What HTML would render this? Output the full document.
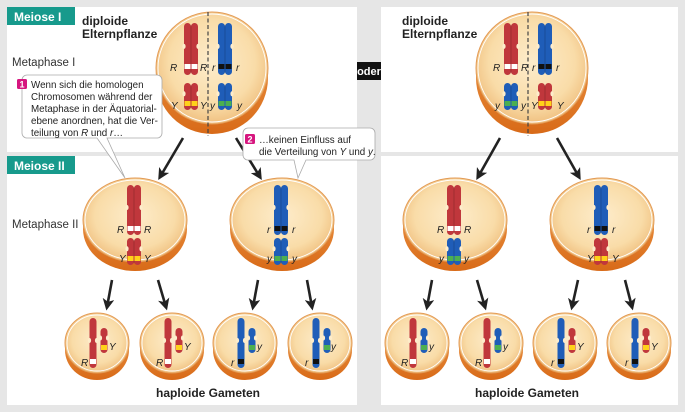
<!DOCTYPE html>
<html><head><meta charset="utf-8"><style>
html,body{margin:0;padding:0;background:#e6e6e6;}
svg{display:block;font-family:"Liberation Sans",sans-serif;}
.b{font-weight:bold;font-size:12px;fill:#222}
.t{font-size:9.8px;fill:#222}
.l{font-size:10px;font-style:italic;fill:#222}
</style></head><body>
<svg id="s" width="685" height="412" viewBox="0 0 685 412" xmlns="http://www.w3.org/2000/svg">
<defs>
<radialGradient id="cg" cx="50%" cy="45%" r="55%"><stop offset="0" stop-color="#fdeccb"/><stop offset="0.7" stop-color="#f9dca8"/><stop offset="1" stop-color="#f0c080"/></radialGradient>
<linearGradient id="rg" x1="0" y1="0" x2="0" y2="1"><stop offset="0" stop-color="#f0a050"/><stop offset="1" stop-color="#d86a18"/></linearGradient>
<marker id="ah" viewBox="0 0 10 10" refX="7" refY="5" markerWidth="4.5" markerHeight="4.5" orient="auto"><path d="M0,0 L10,5 L0,10 L2.5,5 z" fill="#222"/></marker>
</defs>
<rect x="0" y="0" width="685" height="412" fill="#e6e6e6"/>
<rect x="7" y="7" width="350" height="145" fill="#fff"/>
<rect x="7" y="156" width="350" height="249" fill="#fff"/>
<rect x="381" y="7" width="297" height="145" fill="#fff"/>
<rect x="381" y="156" width="297" height="249" fill="#fff"/>
<g id="cells"></g>
<g id="arrows"></g>
<path d="M27,75 h130 a5,5 0 0 1 5,5 v53 a5,5 0 0 1 -5,5 h-50 l18,40 l-28,-40 h-70 a5,5 0 0 1 -5,-5 v-53 a5,5 0 0 1 5,-5 z" fill="#fff" stroke="#aaa" stroke-width="0.8"/>
<path d="M248,128 h122 a5,5 0 0 1 5,5 v22 a5,5 0 0 1 -5,5 h-64 l-8,18 l-4,-18 h-46 a5,5 0 0 1 -5,-5 v-22 a5,5 0 0 1 5,-5 z" fill="#fff" stroke="#aaa" stroke-width="0.8"/>
<rect x="17" y="79" width="10" height="10" rx="1.5" fill="#d6167f"/>
<text x="22" y="87.5" font-size="9" fill="#fff" text-anchor="middle" font-weight="bold">1</text>
<text class="t" x="31" y="88">Wenn sich die homologen</text>
<text class="t" x="31" y="100">Chromosomen während der</text>
<text class="t" x="31" y="112">Metaphase in der Äquatorial-</text>
<text class="t" x="31" y="124">ebene anordnen, hat die Ver-</text>
<text class="t" x="31" y="136">teilung von <tspan font-style="italic">R</tspan> und <tspan font-style="italic">r</tspan>…</text>
<rect x="245" y="134" width="10" height="10" rx="1.5" fill="#d6167f"/>
<text x="250" y="142.5" font-size="9" fill="#fff" text-anchor="middle" font-weight="bold">2</text>
<text class="t" x="259" y="143">…keinen Einfluss auf</text>
<text class="t" x="259" y="155">die Verteilung von <tspan font-style="italic">Y</tspan> und <tspan font-style="italic">y</tspan>.</text>
<rect x="7" y="7" width="68" height="18" fill="#179a8c"/>
<text x="14" y="21" font-size="12" font-weight="bold" fill="#fff">Meiose I</text>
<rect x="7" y="156" width="68" height="18" fill="#179a8c"/>
<text x="14" y="170" font-size="12" font-weight="bold" fill="#fff">Meiose II</text>
<text class="b" x="82" y="25">diploide</text>
<text class="b" x="82" y="38">Elternpflanze</text>
<text class="b" x="402" y="25">diploide</text>
<text class="b" x="402" y="38">Elternpflanze</text>
<text x="12" y="66" font-size="11.5" fill="#333">Metaphase I</text>
<text x="12" y="228" font-size="11.5" fill="#333">Metaphase II</text>
<rect x="357" y="62" width="24" height="18" fill="#111"/>
<text x="369" y="75" font-size="11" font-weight="bold" fill="#fff" text-anchor="middle">oder</text>
<text class="b" x="208" y="397" text-anchor="middle">haploide Gameten</text>
<text class="b" x="527" y="397" text-anchor="middle">haploide Gameten</text>
<g id="labels">
<text class="l" x="170" y="71">R</text><text class="l" x="200" y="71">R</text>
<text class="l" x="212" y="71">r</text><text class="l" x="236" y="71">r</text>
<text class="l" x="171" y="109">Y</text><text class="l" x="200" y="109">Y</text>
<text class="l" x="210" y="109">y</text><text class="l" x="237" y="109">y</text>
<text class="l" x="493" y="71">R</text><text class="l" x="521" y="71">R</text>
<text class="l" x="532" y="71">r</text><text class="l" x="556" y="71">r</text>
<text class="l" x="495" y="109">y</text><text class="l" x="521" y="109">y</text>
<text class="l" x="531" y="109">Y</text><text class="l" x="557" y="109">Y</text>
<text class="l" x="117" y="233">R</text><text class="l" x="144" y="233">R</text>
<text class="l" x="119" y="262">Y</text><text class="l" x="144" y="262">Y</text>
<text class="l" x="267" y="233">r</text><text class="l" x="292" y="233">r</text>
<text class="l" x="267" y="262">y</text><text class="l" x="292" y="262">y</text>
<text class="l" x="437" y="233">R</text><text class="l" x="464" y="233">R</text>
<text class="l" x="439" y="262">y</text><text class="l" x="464" y="262">y</text>
<text class="l" x="587" y="233">r</text><text class="l" x="612" y="233">r</text>
<text class="l" x="587" y="262">Y</text><text class="l" x="612" y="262">Y</text>
<text class="l" x="81" y="366">R</text><text class="l" x="109" y="350">Y</text>
<text class="l" x="156" y="366">R</text><text class="l" x="184" y="350">Y</text>
<text class="l" x="231" y="366">r</text><text class="l" x="257" y="350">y</text>
<text class="l" x="305" y="366">r</text><text class="l" x="331" y="350">y</text>
<text class="l" x="401" y="366">R</text><text class="l" x="429" y="350">y</text>
<text class="l" x="475" y="366">R</text><text class="l" x="503" y="350">y</text>
<text class="l" x="551" y="366">r</text><text class="l" x="577" y="350">Y</text>
<text class="l" x="625" y="366">r</text><text class="l" x="651" y="350">Y</text>
</g>
</svg>
<script>
const NS="http://www.w3.org/2000/svg";
const C=document.getElementById('cells'),A=document.getElementById('arrows');
function el(t,a,p){const e=document.createElementNS(NS,t);for(const k in a)e.setAttribute(k,a[k]);(p||C).appendChild(e);return e;}
function cell(cx,cy,rx,ry,rim){
 el('ellipse',{cx:cx,cy:cy+rim,rx:rx,ry:ry,fill:'url(#rg)'});
 el('ellipse',{cx:cx,cy:cy,rx:rx,ry:ry,fill:'url(#cg)',stroke:'#e39a55','stroke-width':1});
 el('ellipse',{cx:cx,cy:cy,rx:rx-2,ry:ry-2,fill:'none',stroke:'#fff','stroke-width':0.9});
}
const R='#c0373c',B='#1f5db8';
function chrom(cx,top,len,cf,col,bandY,bandCol,dbl){
 const w=7, cy=top+len*cf;
 const xs=dbl?[cx-w,cx]:[cx-w/2];
 xs.forEach(x=>{
  el('rect',{x:x,y:top,width:w,height:len,rx:3.5,fill:col});
  el('ellipse',{cx:(x===cx-w&&dbl)?x:x+w,cy:cy,rx:1.6,ry:2.5,fill:'#fdeccb'});
  if(!dbl) el('ellipse',{cx:x,cy:cy,rx:1.6,ry:2.5,fill:'#fdeccb'});
 });
 if(dbl) el('line',{x1:cx,y1:top+2,x2:cx,y2:top+len-2,stroke:'#000','stroke-opacity':0.25,'stroke-width':0.7});
 const bx=dbl?cx-w:cx-w/2, bw=dbl?2*w:w;
 el('rect',{x:bx+0.5,y:bandY,width:bw-1,height:5,fill:bandCol});
 if(dbl) el('rect',{x:cx-0.5,y:bandY,width:1,height:5,fill:col});
}
[[212,0],[532,1]].forEach(([cx,alt])=>{
 cell(cx,68,56,56,10);
 el('line',{x1:cx-4,y1:12,x2:cx-4,y2:136,stroke:'#444','stroke-width':1.2,'stroke-dasharray':'4,2.5'});
 chrom(cx-21,23,52,0.45,R,64,'#fff',true);
 chrom(cx+13,23,52,0.45,B,64,'#111',true);
 chrom(cx-21,83,27,0.4,alt?B:R,101,alt?'#4caf50':'#ffd21a',true);
 chrom(cx+13,83,27,0.4,alt?R:B,101,alt?'#ffd21a':'#4caf50',true);
});
[[135,R,'#fff',R,'#ffd21a'],[282,B,'#111',B,'#4caf50'],[455,R,'#fff',B,'#4caf50'],[602,B,'#111',R,'#ffd21a']].forEach(([cx,c1,b1,c2,b2])=>{
 cell(cx,220,52,42,9);
 chrom(cx-1,185,50,0.45,c1,226,b1,true);
 chrom(cx-1,238,27,0.4,c2,256,b2,true);
});
const G=[[97,R,'#fff',R,'#ffd21a'],[172,R,'#fff',R,'#ffd21a'],[245,B,'#111',B,'#4caf50'],[320,B,'#111',B,'#4caf50'],
[417,R,'#fff',B,'#4caf50'],[491,R,'#fff',B,'#4caf50'],[565,B,'#111',R,'#ffd21a'],[639,B,'#111',R,'#ffd21a']];
G.forEach(([cx,c1,b1,c2,b2])=>{
 cell(cx,343,32,30,7);
 chrom(cx-4,318,50,0.45,c1,359,b1,false);
 chrom(cx+7,328,25,0.4,c2,345,b2,false);
});
function arr(x1,y1,x2,y2){el('line',{x1:x1,y1:y1,x2:x2,y2:y2,stroke:'#222','stroke-width':2.6,'marker-end':'url(#ah)'},A);}
arr(183,138,160,177);arr(236,138,260,177);
arr(500,138,478,177);arr(557,138,579,177);
[[112,107],[158,166],[258,253],[307,312],[432,427],[477,485],[578,572],[625,632]].forEach(([a,b])=>arr(a,280,b,307));
</script>
</body></html>
